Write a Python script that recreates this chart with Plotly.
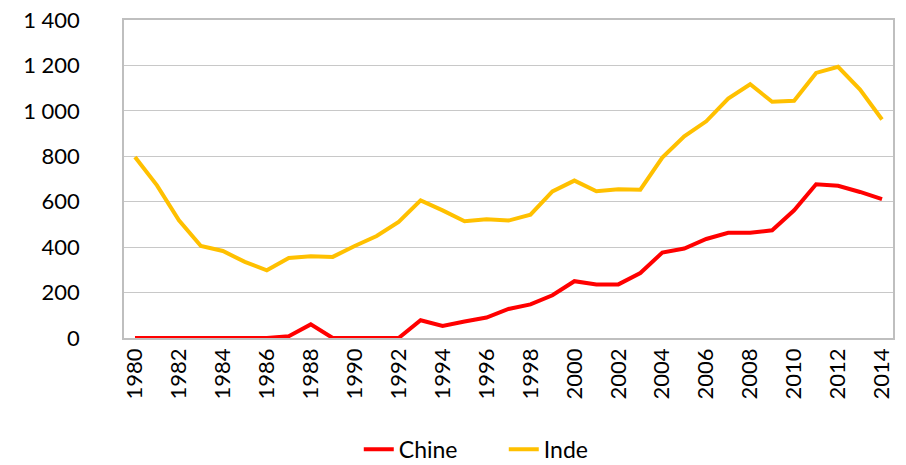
import plotly.graph_objects as go

years = list(range(1980, 2015))
chine = [0, 0, 0, 0, 0, 0, 0, 8, 60, 0, 0, 0, 0, 78, 53, 73, 90, 128, 148, 188,
         250, 236, 236, 286, 376, 394, 436, 463, 463, 474, 562, 677, 670, 643, 611]
inde = [797, 672, 518, 405, 383, 335, 298, 352, 360, 357, 405, 449, 511, 606, 562,
        514, 523, 517, 543, 645, 693, 646, 655, 653, 794, 888, 954, 1054, 1117, 1040,
        1044, 1167, 1194, 1094, 962]
y_ticks = [0, 200, 400, 600, 800, 1000, 1200, 1400]
y_labels = ["0", "200", "400", "600", "800", "1 000", "1 200", "1 400"]
x_ticks = list(range(1980, 2015, 2))

font = "Lato, 'Open Sans', sans-serif"
fig = go.Figure()
fig.add_trace(go.Scatter(x=years, y=chine, mode="lines", name="Chine",
                         line=dict(color="#FF0000", width=4)))
fig.add_trace(go.Scatter(x=years, y=inde, mode="lines", name="Inde",
                         line=dict(color="#FFC000", width=4)))

fig.update_layout(
    width=906, height=465,
    margin=dict(l=124, r=13, t=20, b=127, autoexpand=False),
    paper_bgcolor="white", plot_bgcolor="white",
    font=dict(family=font, size=22, color="#000000"),
    showlegend=True,
    legend=dict(orientation="h", xref="container", yref="container",
                x=0.396, y=0.034, xanchor="left", yanchor="middle",
                font=dict(size=23), itemwidth=30, tracegroupgap=0,
                entrywidth=100, entrywidthmode="pixels"),
)
fig.update_xaxes(range=[1979.5, 2014.5], tickvals=x_ticks,
                 ticktext=[str(v) for v in x_ticks], tickangle=-90,
                 showgrid=False, showline=True, linecolor="#BFBFBF", linewidth=1.5,
                 mirror=True, ticks="", zeroline=False, tickfont=dict(size=22),
                 automargin=False, ticklabeloverflow="allow")
fig.update_yaxes(range=[0, 1400], tickvals=y_ticks, ticktext=y_labels,
                 showgrid=True, gridcolor="#C8C8C8", gridwidth=1.3,
                 showline=True, linecolor="#BFBFBF", linewidth=1.5, mirror=True,
                 ticks="", zeroline=False, tickfont=dict(size=22), ticklabelstandoff=38,
                 automargin=False, ticklabeloverflow="allow")

fig.write_html("out.html", config={"displayModeBar": False},
               post_script="document.body.style.margin='0';")
